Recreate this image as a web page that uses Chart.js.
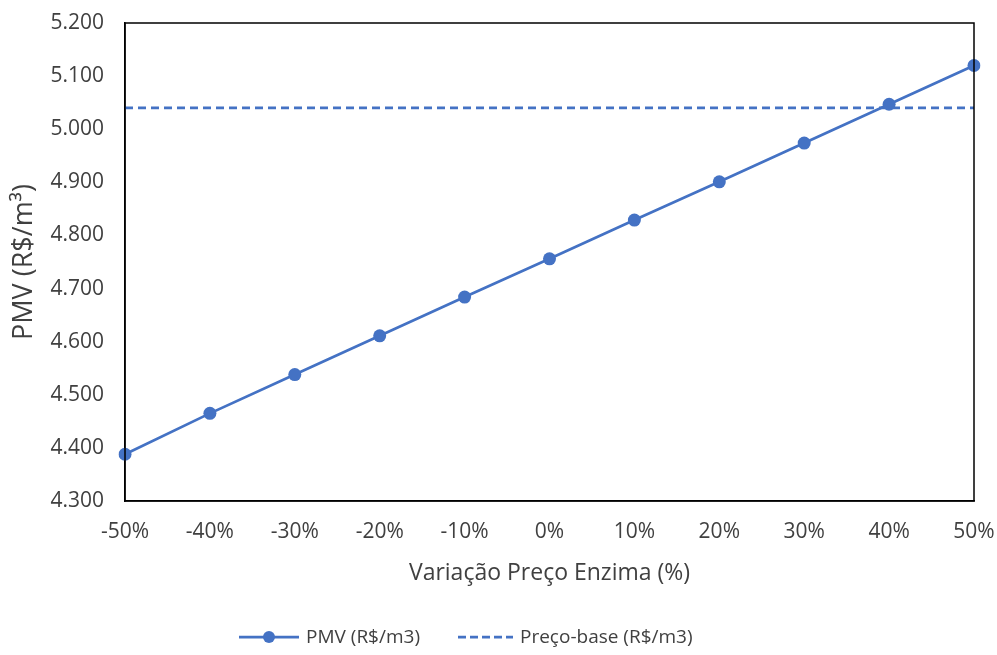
<!DOCTYPE html>
<html>
<head>
<meta charset="utf-8">
<script src="https://cdn.jsdelivr.net/npm/chart.js@4/dist/chart.umd.min.js"></script>
<style>
  html, body { margin: 0; padding: 0; background: #fff; }
  #wrap { width: 997px; height: 655px; position: relative; }
</style>
</head>
<body>
<div id="wrap"><canvas id="c"></canvas></div>
<script>
// Sensitivity of PMV to the enzyme price
const categories = ['-50%', '-40%', '-30%', '-20%', '-10%', '0%', '10%', '20%', '30%', '40%', '50%'];
const pmvValues = [4.388, 4.465, 4.538, 4.611, 4.684, 4.756, 4.829, 4.901, 4.974, 5.047, 5.120];
const basePrice = 5.04;
const baseValues = categories.map(() => basePrice);
const seriesNames = ['PMV (R$/m3)', 'Preço-base (R$/m3)'];
const yTitle = 'PMV (R$/m³)';
const xTitle = 'Variação Preço Enzima (%)';

const BLUE = '#4472C4';
const TEXT = '#404040';
const FONT = "'Open Sans', 'Liberation Sans', sans-serif";

// Box around the plotting area
const frame = {
  id: 'frame',
  afterDraw(chart) {
    const { ctx, chartArea: a } = chart;
    ctx.save();
    ctx.strokeStyle = '#000';
    ctx.lineWidth = 1.5;
    ctx.strokeRect(a.left, a.top, a.right - a.left, a.bottom - a.top);
    ctx.restore();
  }
};

// Legend row under the axis title: line-with-marker and dashed line
const bottomLegend = {
  id: 'bottomLegend',
  afterDraw(chart) {
    const { ctx } = chart;
    const y = 637;
    const fontSize = 19;
    ctx.save();
    ctx.font = fontSize + 'px ' + FONT;
    ctx.textBaseline = 'middle';
    ctx.fillStyle = TEXT;
    let x = 239;
    chart.data.datasets.forEach((d, i) => {
      const symW = i === 0 ? 60 : 55;
      ctx.strokeStyle = d.borderColor;
      ctx.lineWidth = 2.75;
      ctx.setLineDash(i === 0 ? [] : [8, 4]);
      ctx.beginPath();
      ctx.moveTo(x, y);
      ctx.lineTo(x + symW, y);
      ctx.stroke();
      ctx.setLineDash([]);
      if (d.pointRadius > 0) {
        ctx.fillStyle = d.pointBackgroundColor;
        ctx.beginPath();
        ctx.arc(x + symW / 2, y, 6, 0, Math.PI * 2);
        ctx.fill();
      }
      ctx.fillStyle = TEXT;
      ctx.fillText(d.label, x + symW + 7, y + 1);
      x += symW + 7 + ctx.measureText(d.label).width + 38;
    });
    ctx.restore();
  }
};

new Chart(document.getElementById('c'), {
  type: 'line',
  data: {
    labels: categories,
    datasets: [
      {
        label: seriesNames[0],
        data: pmvValues,
        borderColor: BLUE,
        backgroundColor: BLUE,
        borderWidth: 2.75,
        pointRadius: 6.5,
        pointHoverRadius: 6.5,
        pointBackgroundColor: BLUE,
        pointBorderWidth: 0,
        tension: 0
      },
      {
        label: seriesNames[1],
        data: baseValues,
        borderColor: BLUE,
        backgroundColor: BLUE,
        borderWidth: 2.75,
        borderDash: [8, 5],
        pointRadius: 0,
        tension: 0
      }
    ]
  },
  options: {
    responsive: true,
    maintainAspectRatio: false,
    animation: false,
    layout: { padding: { left: 0, top: 23, right: 23, bottom: 54 } },
    scales: {
      x: {
        offset: false,
        grid: { display: false, drawTicks: true, tickLength: 18, tickColor: 'rgba(0,0,0,0)' },
        border: { display: true, color: '#000', width: 1.5 },
        ticks: { color: TEXT, font: { family: FONT, size: 21 }, padding: 0, maxRotation: 0, autoSkip: false },
        title: { display: true, text: xTitle, color: TEXT, font: { family: FONT, size: 23 }, padding: { top: 0, bottom: 14 } },
        afterFit(s) { s.height = 100; }
      },
      y: {
        min: 4.3,
        max: 5.2,
        grid: { display: false, drawTicks: true, tickLength: 21, tickColor: 'rgba(0,0,0,0)' },
        border: { display: true, color: '#000', width: 1.5 },
        ticks: {
          stepSize: 0.1,
          color: TEXT,
          font: { family: FONT, size: 21 },
          padding: 0,
          callback: v => Number(v).toFixed(3)
        },
        title: { display: true, text: yTitle, color: TEXT, font: { family: FONT, size: 27 }, padding: { top: 8, bottom: 0 } },
        afterFit(s) { s.width = 125; }
      }
    },
    plugins: {
      tooltip: { enabled: false },
      legend: { display: false }
    }
  },
  plugins: [frame, bottomLegend]
});
</script>
</body>
</html>
